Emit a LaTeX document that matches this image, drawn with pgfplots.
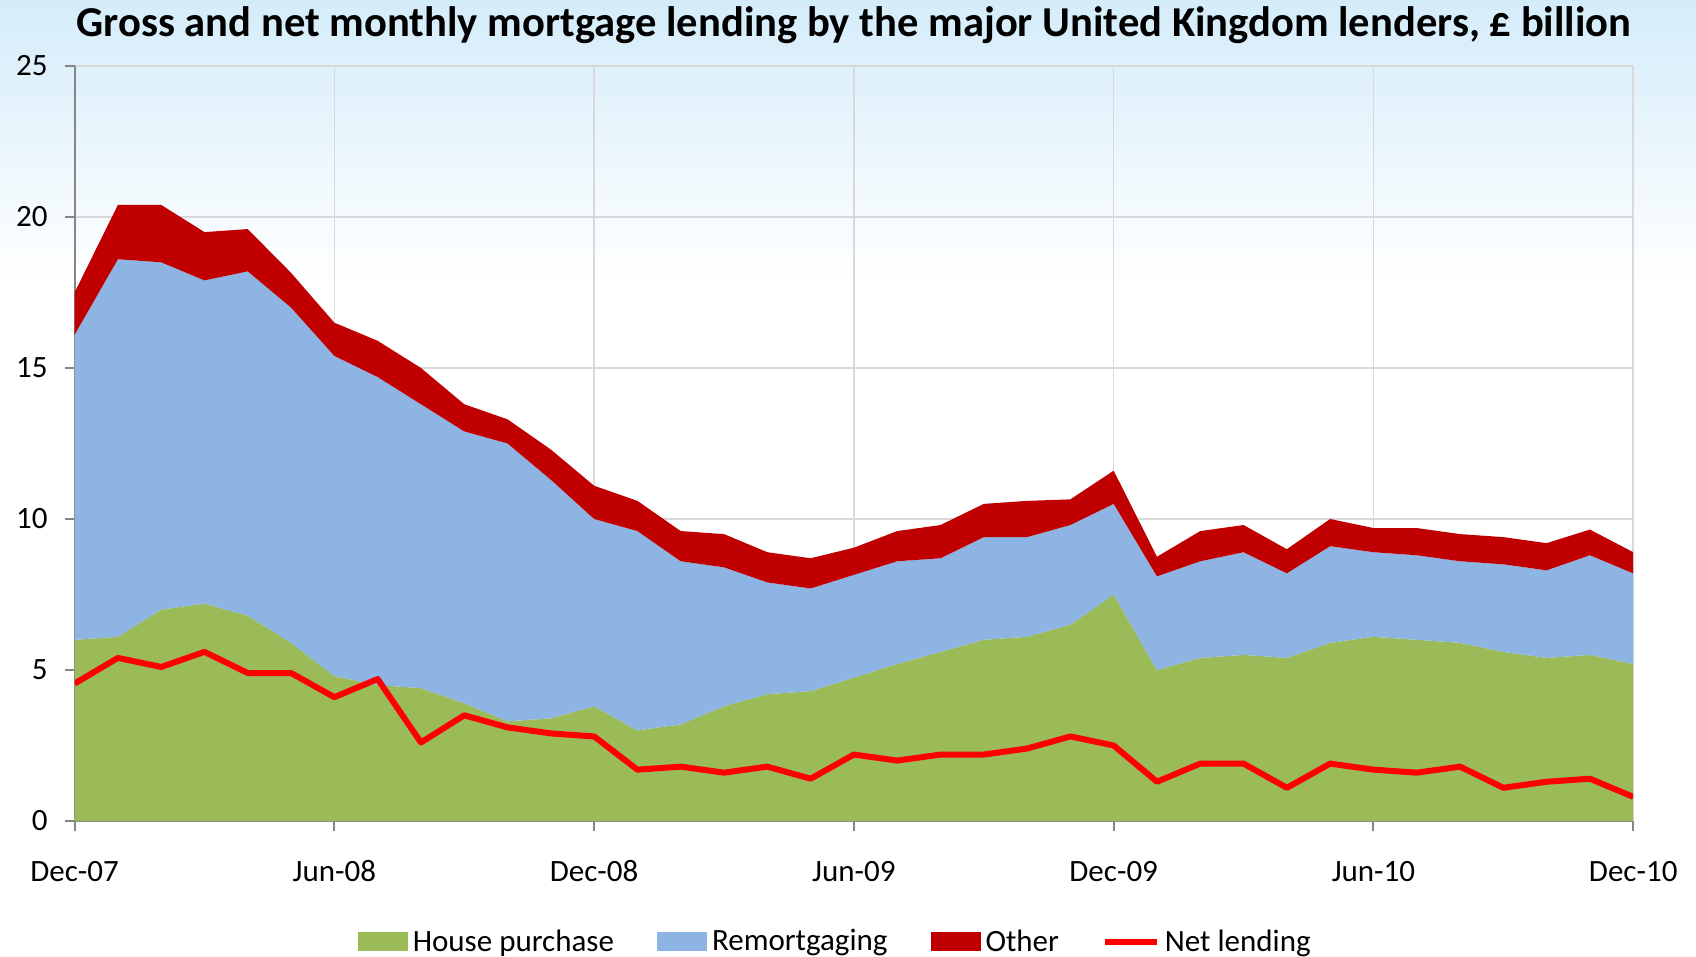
\documentclass[border=0pt]{standalone}
\usepackage{pgfplots}
\pgfplotsset{compat=1.18}
\usepackage{pgfplotstable}
\usepackage{fontspec}
\setmainfont{Carlito}
\definecolor{hpgreen}{RGB}{155,187,89}
\definecolor{rmblue}{RGB}{142,180,227}
\definecolor{othred}{RGB}{192,0,0}
\definecolor{netred}{RGB}{255,0,0}
\definecolor{sky}{RGB}{212,236,250}
\definecolor{gridgray}{RGB}{217,217,217}
\definecolor{axgray}{RGB}{134,134,134}
\pgfplotstableread{
m house remort other net
0 6.0 10.1 1.4 4.55
1 6.1 12.5 1.8 5.4
2 7.0 11.5 1.9 5.1
3 7.2 10.7 1.6 5.6
4 6.8 11.4 1.4 4.9
5 5.9 11.1 1.15 4.9
6 4.8 10.6 1.1 4.1
7 4.5 10.2 1.2 4.7
8 4.4 9.4 1.2 2.6
9 3.9 9.0 0.9 3.5
10 3.3 9.2 0.8 3.1
11 3.4 7.9 1.0 2.9
12 3.8 6.2 1.1 2.8
13 3.0 6.6 1.0 1.7
14 3.2 5.4 1.0 1.8
15 3.8 4.6 1.1 1.6
16 4.2 3.7 1.0 1.8
17 4.3 3.4 1.0 1.4
18 4.75 3.4 0.9 2.2
19 5.2 3.4 1.0 2.0
20 5.6 3.1 1.1 2.2
21 6.0 3.4 1.1 2.2
22 6.1 3.3 1.2 2.4
23 6.5 3.3 0.85 2.8
24 7.5 3.0 1.1 2.5
25 5.0 3.1 0.65 1.3
26 5.4 3.2 1.0 1.9
27 5.5 3.4 0.9 1.9
28 5.4 2.8 0.8 1.1
29 5.9 3.2 0.9 1.9
30 6.1 2.8 0.8 1.7
31 6.0 2.8 0.9 1.6
32 5.9 2.7 0.9 1.8
33 5.6 2.9 0.9 1.1
34 5.4 2.9 0.9 1.3
35 5.5 3.3 0.85 1.4
36 5.2 3.0 0.7 0.8
}\datatable
\begin{document}
\begin{tikzpicture}
\shade[top color=sky, bottom color=white] (-37.3pt,410.5pt) rectangle (810.7pt,270pt);
\begin{axis}[
  scale only axis,
  width=779.3pt, height=377.5pt,
  xmin=0, xmax=36, ymin=0, ymax=25,
  xtick={0,6,...,36},
  xticklabels={Dec-07,Jun-08,Dec-08,Jun-09,Dec-09,Jun-10,Dec-10},
  ytick={0,5,...,25},
  grid=major,
  major grid style={gridgray, line width=0.8pt},
  axis lines*=left,
  axis line style={axgray, line width=1pt},
  tick align=outside,
  major tick length=5pt,
  tick style={axgray, line width=1pt},
  /pgf/number format/assume math mode=true,
  tick label style={font=\fontsize{15.5}{18}\selectfont, black},
  xticklabel style={anchor=base, yshift=-25pt},
  yticklabel style={anchor=east, xshift=-5pt},
  title={\bfseries Gross and net monthly mortgage lending by the major United Kingdom lenders, \pounds\ billion},
  title style={font=\fontsize{21.3}{25}\selectfont, at={(axis description cs:0.5,1)}, anchor=center, yshift=14.5pt},
  legend columns=-1,
  legend style={at={(0.489,-0.16)}, anchor=center, draw=none, fill=none,
    font=\fontsize{15.5}{18}\selectfont,
    /tikz/every even column/.append style={column sep=19pt},
    nodes={inner sep=2.5pt}},
  legend image code/.code={\fill[#1] (0pt,-4.8pt) rectangle (25pt,4.8pt);},
]
\addplot[stack plots=y, fill=hpgreen, draw=none] table[x=m, y=house] {\datatable} \closedcycle;
\addlegendentry{House purchase}
\addplot[stack plots=y, fill=rmblue, draw=none] table[x=m, y=remort] {\datatable} \closedcycle;
\addlegendentry{Remortgaging}
\addplot[stack plots=y, fill=othred, draw=none] table[x=m, y=other] {\datatable} \closedcycle;
\addlegendentry{Other}
\addplot[stack plots=false, netred, line width=3pt, line join=round,
  legend image code/.code={\draw[netred, line width=3pt] (0pt,0pt) -- (26pt,0pt);}] table[x=m, y=net] {\datatable};
\addlegendentry{Net lending}
\end{axis}
\pgfresetboundingbox
\path[use as bounding box] (-37.3pt,-68pt) rectangle (810.7pt,410.5pt);
\end{tikzpicture}
\end{document}
